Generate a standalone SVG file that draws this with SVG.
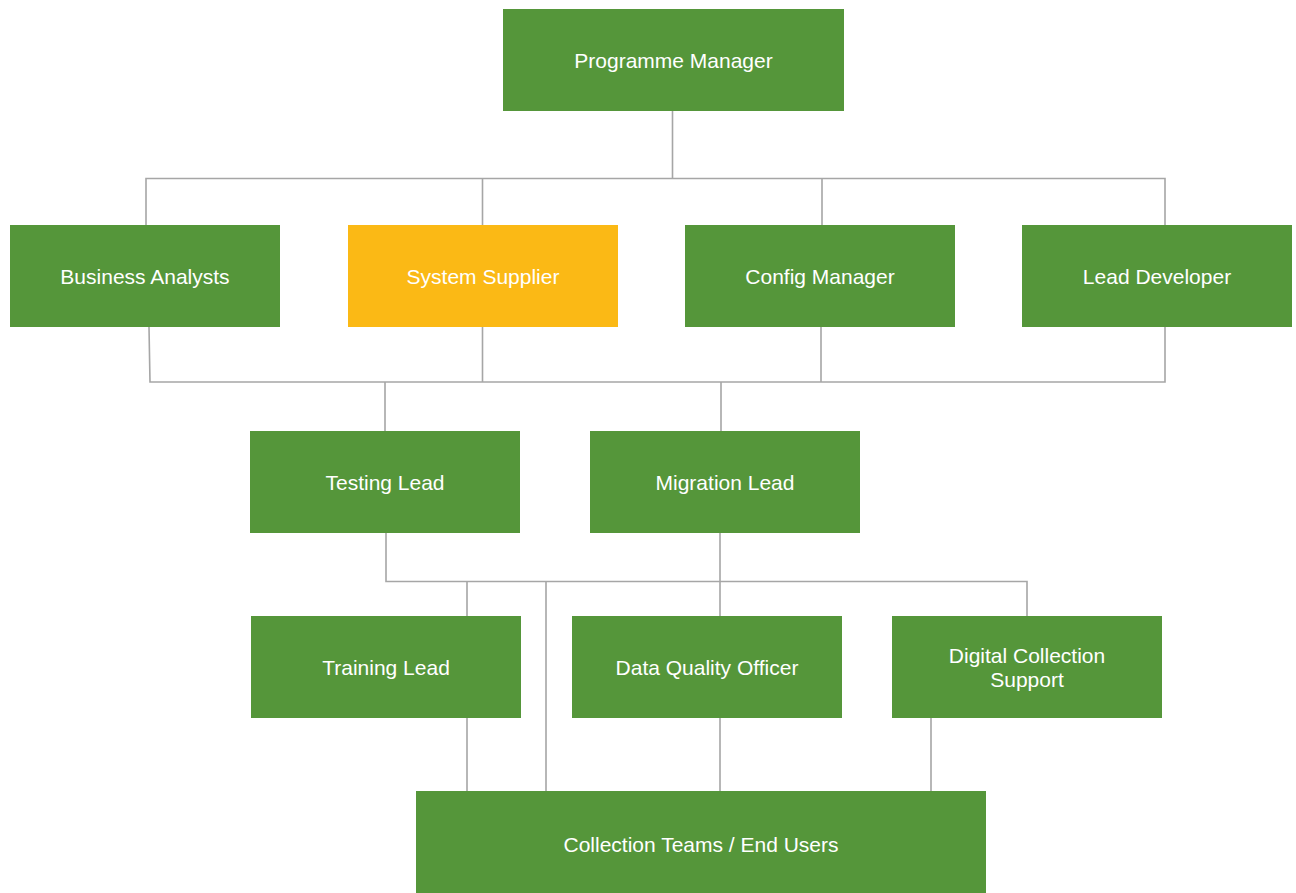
<svg xmlns="http://www.w3.org/2000/svg" width="1296" height="893" viewBox="0 0 1296 893">
<style>
.n{fill:#55963A}
.y{fill:#FBB915}
.t{font-family:"Liberation Sans",Arial,sans-serif;font-size:21px;fill:#FFFFFF;text-anchor:middle}
.c{fill:none;stroke:#A6A6A6;stroke-width:1.6}
</style>
<rect width="1296" height="893" fill="#FFFFFF"/>
<g id="connectors" class="c">
<path d="M672.5 111V178.5M146 225V178.5H1165V225M482.5 178.5V225M822 178.5V225"/>
<path d="M149 327L150 382H1165V327M482.5 327V382M821 327V382M385 382V431M721 382V431"/>
<path d="M386 533V581.5H1027V616M467 581.5V616M546 581.5V791M720 533V616"/>
<path d="M467 718V791M720 718V791M931 718V791"/>
</g>
<g id="programme-manager"><rect class="n" x="503" y="9" width="341" height="102"/><text class="t" x="673.5" y="68">Programme Manager</text></g>
<g id="business-analysts"><rect class="n" x="10" y="225" width="270" height="102"/><text class="t" x="145" y="284">Business Analysts</text></g>
<g id="system-supplier"><rect class="y" x="348" y="225" width="270" height="102"/><text class="t" x="483" y="284">System Supplier</text></g>
<g id="config-manager"><rect class="n" x="685" y="225" width="270" height="102"/><text class="t" x="820" y="284">Config Manager</text></g>
<g id="lead-developer"><rect class="n" x="1022" y="225" width="270" height="102"/><text class="t" x="1157" y="284">Lead Developer</text></g>
<g id="testing-lead"><rect class="n" x="250" y="431" width="270" height="102"/><text class="t" x="385" y="490">Testing Lead</text></g>
<g id="migration-lead"><rect class="n" x="590" y="431" width="270" height="102"/><text class="t" x="725" y="490">Migration Lead</text></g>
<g id="training-lead"><rect class="n" x="251" y="616" width="270" height="102"/><text class="t" x="386" y="675">Training Lead</text></g>
<g id="data-quality-officer"><rect class="n" x="572" y="616" width="270" height="102"/><text class="t" x="707" y="675">Data Quality Officer</text></g>
<g id="digital-collection-support"><rect class="n" x="892" y="616" width="270" height="102"/><text class="t" x="1027" y="663">Digital Collection</text><text class="t" x="1027" y="687">Support</text></g>
<g id="collection-teams"><rect class="n" x="416" y="791" width="570" height="102"/><text class="t" x="701" y="852">Collection Teams / End Users</text></g>
</svg>
